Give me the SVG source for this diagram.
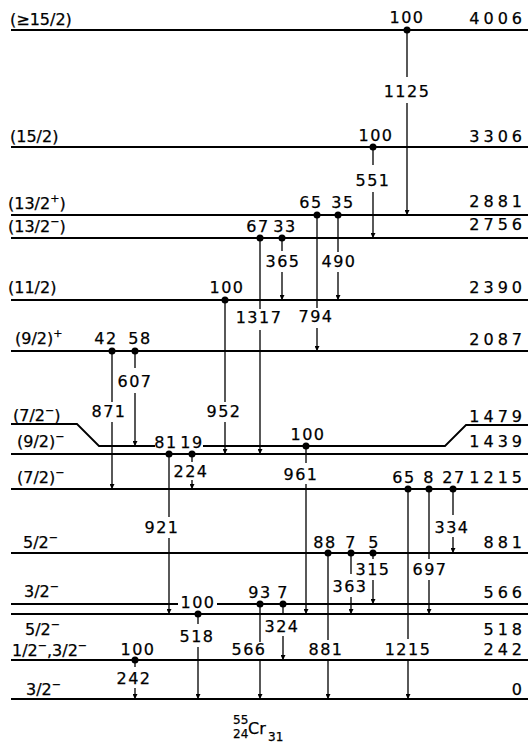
<svg xmlns="http://www.w3.org/2000/svg" width="530" height="743" viewBox="0 0 530 743">
<style>
.lv{stroke:#000;stroke-width:1.8;fill:none}
.tr{stroke:#000;stroke-width:1.3;fill:none;marker-end:url(#ah)}
text{font-family:"DejaVu Sans","Liberation Sans",sans-serif;font-size:16px;fill:#000;stroke:#000;stroke-width:0.25}
.r{text-anchor:end;letter-spacing:4px}
.m{text-anchor:middle;letter-spacing:1.5px}
.s{font-size:11px}
.sm{font-size:12px}
</style>
<defs>
<marker id="ah" viewBox="0 0 6 6" refX="6" refY="3" markerWidth="5" markerHeight="5" markerUnits="userSpaceOnUse" orient="auto"><path d="M0,0 L6,3 L0,6 z" fill="#000"/></marker>
</defs>
<rect width="530" height="743" fill="#fff"/>
<g id="levels">
<g id="lv4006"><path class="lv" d="M11,30 H528"/><text x="10" y="25">(≥15/2)</text><text class="r" x="526" y="24">4006</text></g>
<g id="lv3306"><path class="lv" d="M11,147 H528"/><text x="10" y="142">(15/2)</text><text class="r" x="526" y="142">3306</text></g>
<g id="lv2881"><path class="lv" d="M11,215 H528"/><text x="8" y="209">(13/2<tspan class="s" dy="-7">+</tspan><tspan dy="7">)</tspan></text><text class="r" x="526" y="207">2881</text></g>
<g id="lv2756"><path class="lv" d="M11,238 H528"/><text x="8" y="232">(13/2<tspan class="s" dy="-7">−</tspan><tspan dy="7">)</tspan></text><text class="r" x="526" y="230">2756</text></g>
<g id="lv2390"><path class="lv" d="M11,300 H528"/><text x="8" y="293">(11/2)</text><text class="r" x="526" y="293">2390</text></g>
<g id="lv2087"><path class="lv" d="M11,351 H528"/><text x="15" y="344">(9/2)<tspan class="s" dy="-7">+</tspan></text><text class="r" x="526" y="345">2087</text></g>
<g id="lv1479"><path class="lv" d="M11,424 H77 L99,446 H155 M203,446 H445 L466,425 H528"/><text x="13" y="421">(7/2<tspan class="s" dy="-7">−</tspan><tspan dy="7">)</tspan></text><text class="r" x="526" y="422">1479</text></g>
<g id="lv1439"><path class="lv" d="M11,454 H528"/><text x="17" y="447">(9/2)<tspan class="s" dy="-7">−</tspan></text><text class="r" x="526" y="447">1439</text></g>
<g id="lv1215"><path class="lv" d="M11,489 H528"/><text x="17" y="483">(7/2)<tspan class="s" dy="-7">−</tspan></text><text class="r" x="526" y="483">1215</text></g>
<g id="lv881"><path class="lv" d="M11,553 H528"/><text x="23" y="548">5/2<tspan class="s" dy="-7">−</tspan></text><text class="r" x="526" y="548">881</text></g>
<g id="lv566"><path class="lv" d="M11,604 H178 M217,604 H528"/><text x="24" y="597">3/2<tspan class="s" dy="-7">−</tspan></text><text class="r" x="526" y="598">566</text></g>
<g id="lv518"><path class="lv" d="M11,614 H528"/><text x="25" y="635">5/2<tspan class="s" dy="-7">−</tspan></text><text class="r" x="526" y="635">518</text></g>
<g id="lv242"><path class="lv" d="M11,660 H528"/><text x="12" y="656">1/2<tspan class="s" dy="-7">−</tspan><tspan dy="7">,3/2</tspan><tspan class="s" dy="-7">−</tspan></text><text class="r" x="526" y="655">242</text></g>
<g id="lv0"><path class="lv" d="M11,699 H528"/><text x="26" y="695">3/2<tspan class="s" dy="-7">−</tspan></text><text class="r" x="526" y="695">0</text></g>
</g>
<g id="transitions">
<g id="t1125"><path class="tr" d="M407,30 V77 M407,103 V215"/><circle cx="407" cy="30" r="3.5"/><text class="m" x="407" y="23">100</text><text class="m" x="407" y="97">1125</text></g>
<g id="t551"><path class="tr" d="M373,147 V165 M373,192 V238"/><circle cx="373" cy="147" r="3.5"/><text class="m" x="376" y="141">100</text><text class="m" x="373" y="186">551</text></g>
<g id="t794"><path class="tr" d="M317,215 V308 M317,328 V351"/><circle cx="317" cy="215" r="3.5"/><text class="m" x="311" y="208">65</text><text class="m" x="316" y="322">794</text></g>
<g id="t490"><path class="tr" d="M338,215 V252 M338,272 V300"/><circle cx="338" cy="215" r="3.5"/><text class="m" x="343" y="208">35</text><text class="m" x="339" y="267">490</text></g>
<g id="t1317"><path class="tr" d="M260,238 V309 M260,330 V454"/><circle cx="260" cy="238" r="3.5"/><text class="m" x="258" y="232">67</text><text class="m" x="259" y="323">1317</text></g>
<g id="t365"><path class="tr" d="M282,238 V251 M282,272 V300"/><circle cx="282" cy="238" r="3.5"/><text class="m" x="285" y="232">33</text><text class="m" x="283" y="267">365</text></g>
<g id="t952"><path class="tr" d="M225,300 V402 M225,422 V454"/><circle cx="225" cy="300" r="3.5"/><text class="m" x="227" y="293">100</text><text class="m" x="224" y="417">952</text></g>
<g id="t871"><path class="tr" d="M112,351 V402 M112,422 V489"/><circle cx="112" cy="351" r="3.5"/><text class="m" x="106" y="344">42</text><text class="m" x="109" y="417">871</text></g>
<g id="t607"><path class="tr" d="M135,351 V368 M135,393 V446"/><circle cx="135" cy="351" r="3.5"/><text class="m" x="140" y="344">58</text><text class="m" x="135" y="387">607</text></g>
<g id="t921"><path class="tr" d="M169,454 V517 M169,538 V614"/><circle cx="169" cy="454" r="3.5"/><text class="m" x="166" y="448">81</text><text class="m" x="162" y="533">921</text></g>
<g id="t224"><path class="tr" d="M192,454 V462 M192,480 V489"/><circle cx="192" cy="454" r="3.5"/><text class="m" x="192" y="448">19</text><text class="m" x="191" y="477">224</text></g>
<g id="t961"><path class="tr" d="M306,446 V463 M306,484 V614"/><circle cx="306" cy="446" r="3.5"/><text class="m" x="308" y="440">100</text><text class="m" x="301" y="480">961</text></g>
<g id="t1215"><path class="tr" d="M408,489 V639 M408,660 V699"/><circle cx="408" cy="489" r="3.5"/><text class="m" x="404" y="483">65</text><text class="m" x="408" y="655">1215</text></g>
<g id="t697"><path class="tr" d="M429,489 V559 M429,580 V614"/><circle cx="429" cy="489" r="3.5"/><text class="m" x="429" y="483">8</text><text class="m" x="430" y="575">697</text></g>
<g id="t334"><path class="tr" d="M453,489 V515 M453,537 V553"/><circle cx="453" cy="489" r="3.5"/><text class="m" x="454" y="483">27</text><text class="m" x="452" y="533">334</text></g>
<g id="t881"><path class="tr" d="M328,553 V640 M328,660 V699"/><circle cx="328" cy="553" r="3.5"/><text class="m" x="325" y="548">88</text><text class="m" x="326" y="655">881</text></g>
<g id="t363"><path class="tr" d="M351,553 V574 M351,597 V614"/><circle cx="351" cy="553" r="3.5"/><text class="m" x="351" y="548">7</text><text class="m" x="350" y="592">363</text></g>
<g id="t315"><path class="tr" d="M373,553 V559 M373,580 V604"/><circle cx="373" cy="553" r="3.5"/><text class="m" x="374" y="548">5</text><text class="m" x="373" y="575">315</text></g>
<g id="t518"><path class="tr" d="M198,614 V624 M198,647 V699"/><circle cx="198" cy="614" r="3.5"/><text class="m" x="198" y="608">100</text><text class="m" x="197" y="642">518</text></g>
<g id="t566"><path class="tr" d="M260,604 V642 M260,661 V699"/><circle cx="260" cy="604" r="3.5"/><text class="m" x="260" y="598">93</text><text class="m" x="249" y="655">566</text></g>
<g id="t324"><path class="tr" d="M283,604 V615 M283,636 V660"/><circle cx="283" cy="604" r="3.5"/><text class="m" x="283" y="598">7</text><text class="m" x="282" y="632">324</text></g>
<g id="t242"><path class="tr" d="M135,660 V667 M135,688 V699"/><circle cx="135" cy="660" r="3.5"/><text class="m" x="138" y="655">100</text><text class="m" x="134" y="684">242</text></g>
</g>
<g id="nucleus">
<text class="sm" x="233" y="724">55</text>
<text class="sm" x="233" y="738">24</text>
<text x="248" y="734" font-size="18">Cr</text>
<text class="sm" x="268" y="741">31</text>
</g>
</svg>
